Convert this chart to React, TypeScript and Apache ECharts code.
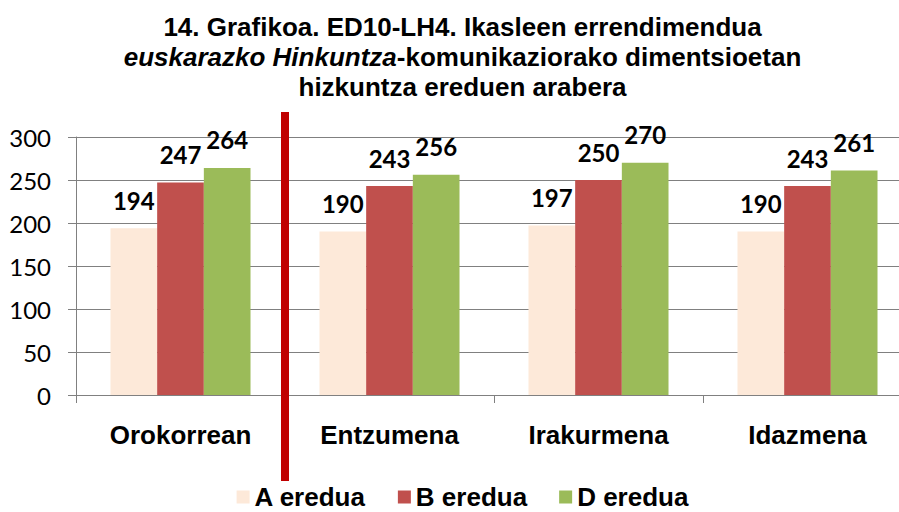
import React, { useEffect, useRef } from "react";
import * as echarts from "echarts";

const categories = ["Orokorrean", "Entzumena", "Irakurmena", "Idazmena"];
const seriesNames = ["A eredua", "B eredua", "D eredua"];
const valuesA = [194, 190, 197, 190];
const valuesB = [247, 243, 250, 243];
const valuesD = [264, 256, 270, 261];
const colors = ["#FDE9D9", "#C0504D", "#9BBB59"];
const titleLine1 = "14. Grafikoa. ED10-LH4. Ikasleen errendimendua";
const titleLine2Italic = "euskarazko Hinkuntza";
const titleLine2Rest = "-komunikaziorako dimentsioetan";
const titleLine3 = "hizkuntza ereduen arabera";

const SANS = "'Liberation Sans', Arial, sans-serif";
const NUM = "Lato, 'Open Sans', sans-serif";

export default function App() {
  const ref = useRef<HTMLDivElement>(null);
  useEffect(() => {
    if (!ref.current) return;
    const chart = echarts.init(ref.current, null, { renderer: "svg" });
    const allValues = [valuesA, valuesB, valuesD];
    const option: any = {
      animation: false,
      backgroundColor: "#fff",
      title: {
        text:
          "{b|" + titleLine1 + "}\n{i|" + titleLine2Italic + "}{b|" + titleLine2Rest + "}\n{b|" + titleLine3 + "}",
        left: "center",
        top: 7,
        textStyle: {
          rich: {
            b: { fontFamily: SANS, fontWeight: "bold", fontSize: 26, lineHeight: 30, color: "#000" },
            i: { fontFamily: SANS, fontWeight: "bold", fontStyle: "italic", fontSize: 26, lineHeight: 30, color: "#000" },
          },
        },
      },
      legend: {
        data: seriesNames,
        left: "center",
        top: 484,
        padding: 0,
        icon: "rect",
        itemWidth: 13,
        itemHeight: 13,
        itemGap: 32,
        textStyle: { fontFamily: SANS, fontWeight: "bold", fontSize: 26, lineHeight: 26, color: "#000" },
      },
      grid: { left: 76, right: 13, top: 137, bottom: 117, containLabel: false },
      xAxis: {
        type: "category",
        data: categories,
        axisLine: { show: true, lineStyle: { color: "#808080", width: 1 } },
        axisTick: { show: true, length: 8, interval: 0, lineStyle: { color: "#808080" } },
        axisLabel: { fontFamily: SANS, fontWeight: "bold", fontSize: 26, color: "#000", margin: 27, interval: 0 },
      },
      yAxis: {
        type: "value",
        min: 0,
        max: 300,
        interval: 50,
        axisLine: { show: true, lineStyle: { color: "#808080", width: 1 } },
        axisTick: { show: true, length: 8, lineStyle: { color: "#808080" } },
        splitLine: { show: true, lineStyle: { color: "#808080", width: 1 } },
        axisLabel: { fontFamily: NUM, fontSize: 24, color: "#000", margin: 25 },
      },
      series: seriesNames.map((name, i) => ({
        name,
        type: "bar",
        data: allValues[i],
        barGap: "0%",
        barCategoryGap: "33%",
        itemStyle: { color: colors[i] },
        label: {
          show: true,
          position: "top",
          distance: 16,
          fontFamily: NUM,
          fontWeight: "bold",
          fontSize: 24,
          color: "#000",
        },
      })),
    };
    chart.setOption(option);
    const x0 = chart.convertToPixel({ xAxisIndex: 0 }, 0) as number;
    const x1 = chart.convertToPixel({ xAxisIndex: 0 }, 1) as number;
    const xm = (x0 + x1) / 2;
    chart.setOption({
      graphic: [
        {
          type: "line",
          shape: { x1: xm, y1: 112, x2: xm, y2: 481 },
          style: { stroke: "#C00000", lineWidth: 8 },
          z: 100,
        },
      ],
    });
    return () => chart.dispose();
  }, []);
  return (
    <div style={{ position: "absolute", left: 0, top: 0, width: 899, height: 512, overflow: "hidden" }}>
      <div ref={ref} style={{ width: 925, height: 512 }} />
    </div>
  );
}
